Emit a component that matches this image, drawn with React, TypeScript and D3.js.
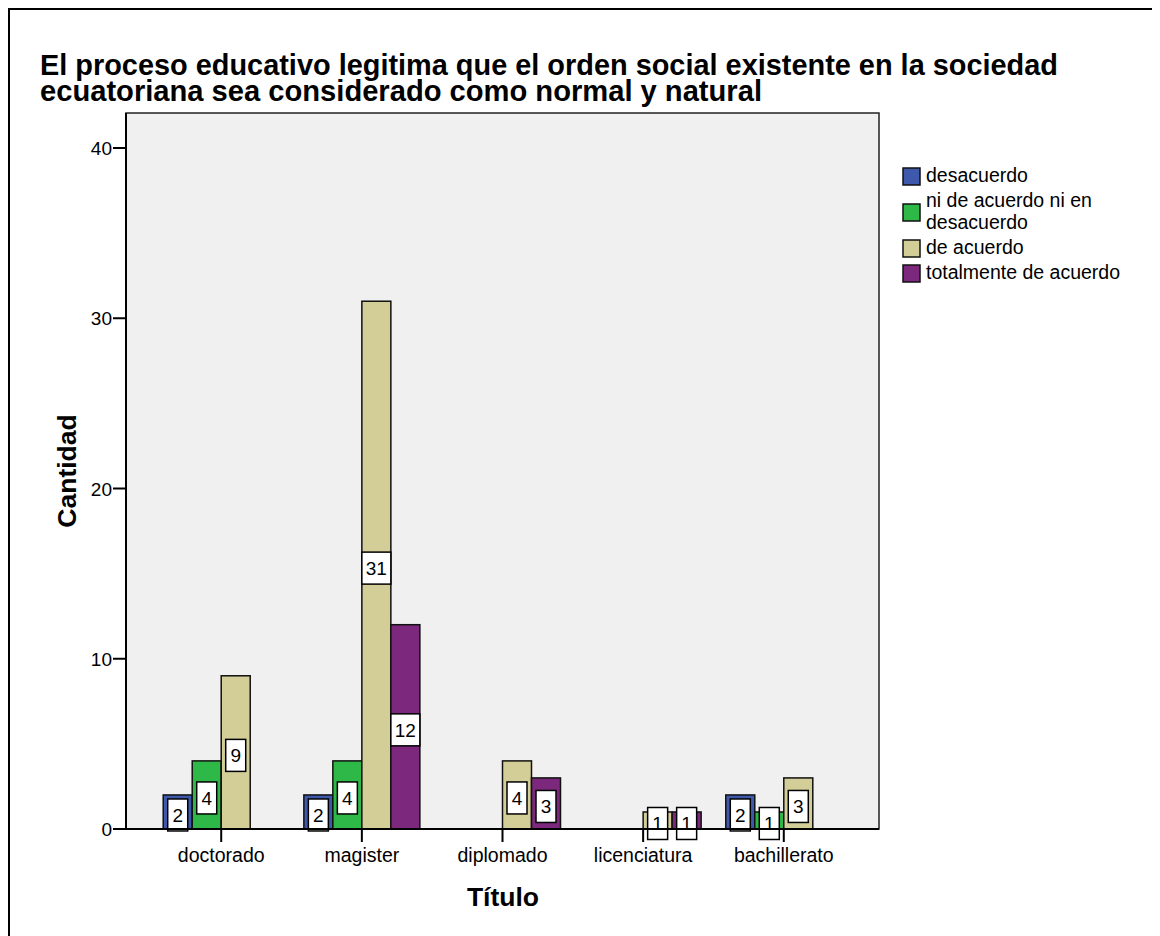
import React from "react";
import * as d3 from "d3";

const categories = ["doctorado", "magister", "diplomado", "licenciatura", "bachillerato"];
const seriesNames = ["desacuerdo", "ni de acuerdo ni en desacuerdo", "de acuerdo", "totalmente de acuerdo"];
const legendLines = [["desacuerdo"], ["ni de acuerdo ni en", "desacuerdo"], ["de acuerdo"], ["totalmente de acuerdo"]];
const desacuerdo = [2, 2, 0, 0, 2];
const niNi = [4, 4, 0, 0, 1];
const deAcuerdo = [9, 31, 4, 1, 3];
const totalmente = [0, 12, 3, 1, 0];
const yTicks = [0, 10, 20, 30, 40];
const colors = ["#3E58AC", "#2EB848", "#D3CE97", "#7C287D"];

const series = [desacuerdo, niNi, deAcuerdo, totalmente];

export default function App() {
  const L = 126, R = 879, T = 113, B = 829;
  const y = d3.scaleLinear().domain([0, 40]).range([B, 148]);
  const x = d3.scalePoint<string>().domain(categories).range([L, R]).padding(0.677);
  const bw = 29;
  const font = "Arial, 'Liberation Sans', Helvetica, sans-serif";

  const labelW = (s: string) => (s.length === 1 ? 20 : 29);

  return (
    <svg width={1152} height={928} style={{ display: "block" }}>
      <g transform="translate(-8,-8)" fontFamily={font}>
        <rect x={9} y={9} width={1200} height={1000} fill="white" stroke="black" strokeWidth={2} />
        <text x={40} y={75} fontSize={29} fontWeight="bold" textLength={1018} lengthAdjust="spacingAndGlyphs">El proceso educativo legitima que el orden social existente en la sociedad</text>
        <text x={40} y={101} fontSize={29} fontWeight="bold" textLength={722} lengthAdjust="spacingAndGlyphs">ecuatoriana sea considerado como normal y natural</text>
        <rect x={L} y={T} width={R - L} height={B - T} fill="#F0F0F0" stroke="#222" strokeWidth={1.5} />
        {series.map((vals, si) =>
          vals.map((v, ci) => {
            if (v === 0) return null;
            const cx = x(categories[ci])!;
            const bx = cx + (si - 2) * bw;
            return (
              <rect key={`b${si}-${ci}`} x={bx} y={y(v)} width={bw} height={y(0) - y(v)}
                fill={colors[si]} stroke="#111" strokeWidth={1.5} />
            );
          })
        )}
        {series.map((vals, si) =>
          vals.map((v, ci) => {
            if (v === 0) return null;
            const cx = x(categories[ci])! + (si - 2) * bw + bw / 2;
            const cy = y(v / 2) + 3;
            const s = String(v);
            const w = labelW(s);
            return (
              <g key={`l${si}-${ci}`}>
                <rect x={cx - w / 2} y={cy - 16} width={w} height={32} fill="white" stroke="black" strokeWidth={1.5} />
                <text x={cx} y={cy + 7} fontSize={19} textAnchor="middle">{s}</text>
              </g>
            );
          })
        )}
        <line x1={L} x2={L} y1={T} y2={B} stroke="black" strokeWidth={2} />
        <line x1={L} x2={R} y1={B} y2={B} stroke="black" strokeWidth={2} />
        {yTicks.map((t) => (
          <g key={`yt${t}`}>
            <line x1={L - 13} x2={L} y1={y(t)} y2={y(t)} stroke="black" strokeWidth={2} />
            <text x={L - 14} y={y(t) + 7} fontSize={19} textAnchor="end">{t}</text>
          </g>
        ))}
        {categories.map((c) => (
          <g key={`xt${c}`}>
            <line x1={x(c)} x2={x(c)} y1={B} y2={B + 13} stroke="black" strokeWidth={2} />
            <text x={x(c)} y={862} fontSize={19.5} textAnchor="middle">{c}</text>
          </g>
        ))}
        <text transform={`translate(76,${471}) rotate(-90)`} fontSize={26.5} fontWeight="bold" textAnchor="middle">Cantidad</text>
        <text x={503} y={906} fontSize={26.5} fontWeight="bold" textAnchor="middle">Título</text>
        {(() => {
          let yy = 166;
          return legendLines.map((lines, i) => {
            const top = yy;
            const h = lines.length * 22;
            yy += h + 3;
            const sy = top + h / 2 - 9;
            return (
              <g key={`lg${i}`}>
                <rect x={903} y={sy} width={17} height={17} fill={colors[i]} stroke="#111" strokeWidth={1.5} />
                {lines.map((ln, j) => (
                  <text key={j} x={926} y={top + 16 + j * 22} fontSize={19.5}>{ln}</text>
                ))}
              </g>
            );
          });
        })()}
      </g>
    </svg>
  );
}
